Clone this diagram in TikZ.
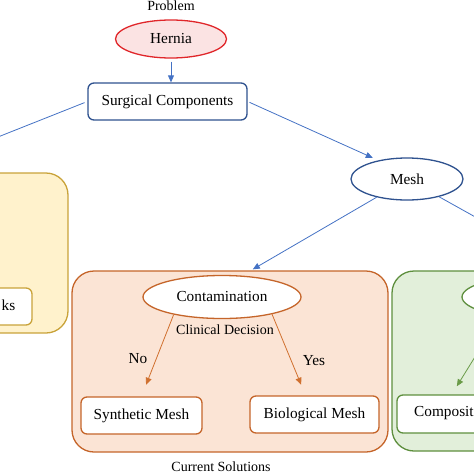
\documentclass[tikz,border=0pt]{standalone}
\usepackage{fontspec}
\setmainfont{Liberation Serif}
\usetikzlibrary{shapes.geometric,arrows.meta}
\definecolor{bluebd}{HTML}{2F528F}
\definecolor{bluear}{HTML}{4472C4}
\definecolor{redbd}{HTML}{E0262A}
\definecolor{redfill}{HTML}{FBE3E3}
\definecolor{orbd}{HTML}{C5652A}
\definecolor{orfill}{HTML}{FBE4D5}
\definecolor{orar}{HTML}{D0702F}
\definecolor{yebd}{HTML}{C9A33A}
\definecolor{yefill}{HTML}{FFF2CC}
\definecolor{grbd}{HTML}{5E8F3E}
\definecolor{grfill}{HTML}{E2EFDA}
\definecolor{grar}{HTML}{6A9B48}
\begin{document}
\begin{tikzpicture}[x=1pt,y=-1pt,
  main/.style={font=\fontsize{15.3}{18}\selectfont, inner sep=0pt},
  small/.style={font=\fontsize{14}{16}\selectfont, inner sep=0pt},
  ell/.style={main, ellipse, draw, line width=1.3pt},
  ibox/.style={main, rectangle, rounded corners=6pt, draw, line width=1.3pt, fill=white},
  cont/.style={rectangle, rounded corners=22pt, draw, line width=1.3pt},
  arr/.style={line width=0.8pt, -{Triangle[length=7pt,width=6pt]}},
]
\useasboundingbox (0,0) rectangle (474,474);
\clip (0,0) rectangle (474,474);

% containers
\node[cont, draw=yebd, fill=yefill, minimum width=108pt, minimum height=160pt] (ybox) at (14,253) {};
\node[cont, draw=orbd, fill=orfill, minimum width=316pt, minimum height=181pt] (obox) at (230,361.5) {};
\node[cont, draw=grbd, fill=grfill, minimum width=316pt, minimum height=180pt] (gbox) at (550,361) {};

% top
\node[small] (prob) at (171,6) {Problem};
\node[ell, draw=redbd, fill=redfill, minimum width=111pt, minimum height=38pt] (hernia) at (171,39) {Hernia};
\node[ibox, draw=bluebd, minimum width=159pt, minimum height=37pt] (sc) at (167.5,101.5) {Surgical Components};
\node[ell, draw=bluebd, fill=white, minimum width=112pt, minimum height=42pt] (mesh) at (407,179) {Mesh};

% yellow box content
\node[ibox, draw=yebd, minimum width=72pt, minimum height=37pt] (ksbox) at (-4,306.5) {};
\node[main, anchor=east] (kstext) at (15.5,305) {ks};

% orange box content
\node[ell, draw=orbd, fill=white, minimum width=158pt, minimum height=43pt] (contam) at (222,297) {Contamination};
\node[small] (clin) at (225,330) {Clinical Decision};
\node[ibox, draw=orbd, minimum width=121pt, minimum height=37pt] (syn) at (141.5,415.5) {Synthetic Mesh};
\node[ibox, draw=orbd, minimum width=129pt, minimum height=37pt] (bio) at (314.5,414.5) {Biological Mesh};
\node[main] (no) at (138,359) {No};
\node[main] (yes) at (314,361) {Yes};
\node[small] (cur) at (221,467) {Current Solutions};

% green box content
\node[ell, draw=grbd, fill=white, minimum width=158pt, minimum height=43pt] (gell) at (541,297) {};
\node[ibox, draw=grbd, minimum width=128pt, minimum height=38pt] (comp) at (461,414) {};
\node[main, anchor=west] (comptext) at (414,413) {Composit};

% connectors
\coordinate (leftend) at (-60,160);
\draw[bluear, line width=0.8pt, shorten <=3pt] (sc.west) -- (leftend);
\draw[arr, bluear, shorten <=3pt] (hernia.south) -- (hernia.south |- sc.north);
\draw[arr, bluear, shorten <=2pt, shorten >=6pt] (sc.east) -- (mesh.147);
\draw[arr, bluear, shorten >=2pt] (mesh.211) -- (obox.77.5);
\draw[arr, bluear, shorten >=2pt] (mesh.-29) -- (gbox.77.5);
\draw[arr, orar, shorten >=12.5pt] (contam.200) -- (syn.north);
\draw[arr, orar, shorten >=11.5pt] (contam.-19) -- (bio.115);
\draw[arr, grar, shorten >=9.5pt] (gell.205) -- (comp.115.3);
\end{tikzpicture}
\end{document}
